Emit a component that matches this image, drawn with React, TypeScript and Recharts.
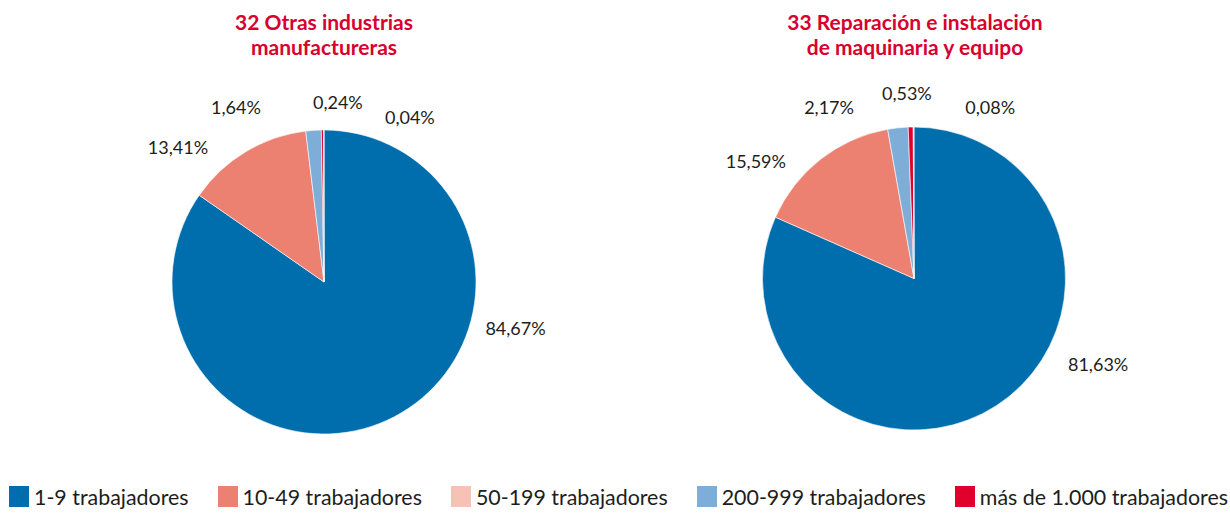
import { PieChart, Pie, Cell } from 'recharts';

const categories = [
    '1-9 trabajadores',
    '10-49 trabajadores',
    '50-199 trabajadores',
    '200-999 trabajadores',
    'más de 1.000 trabajadores',
];
const legendColors = ['#006eac', '#ec8071', '#f5c2b5', '#7eaed8', '#e0002b'];

// slice order as drawn (clockwise from 12 o'clock)
const sliceNames = ['1-9 trabajadores', '10-49 trabajadores', '200-999 trabajadores', 'más de 1.000 trabajadores', '50-199 trabajadores'];
const leftValues = [84.67, 13.41, 1.64, 0.24, 0.04];
const rightValues = [81.63, 15.59, 2.17, 0.53, 0.08];

const leftTitle = ['32 Otras industrias', 'manufactureras'];
const rightTitle = ['33 Reparación e instalación', 'de maquinaria y equipo'];

// label placement: [angle in degrees, distance from centre]
const leftLabelPos = [
    [-13.5, 197],
    [137.2, 199],
    [116.7, 196],
    [85.6, 181],
    [62.5, 186],
];
const rightLabelPos = [
    [-24.9, 203],
    [143.4, 197],
    [116.4, 191],
    [92.2, 186],
    [66.1, 188],
];

const colorOf = (name: string) => legendColors[categories.indexOf(name)];
const fmt = (v: number) => v.toFixed(2).replace('.', ',') + '%';

const buildData = (values: number[]) =>
    sliceNames.map((name, i) => ({ name, value: values[i] }));

const makeLabel = (pos: number[][]) => (props: any) => {
    const { cx, cy, index, value } = props;
    const [ang, r] = pos[index];
    const rad = (ang * Math.PI) / 180;
    const x = cx + r * Math.cos(rad);
    const y = cy - r * Math.sin(rad);
    return (
        <text
            key={'l' + index}
            x={x}
            y={y}
            textAnchor='middle'
            dominantBaseline='central'
            fill='#1d1d1b'
            fontSize={18}
            fontFamily='Lato'
        >
            {fmt(value)}
        </text>
    );
};

const Title = ({ lines, x }: { lines: string[]; x: number }) => (
    <div
        style={{
            position: 'absolute',
            left: x - 200,
            top: 9,
            width: 400,
            textAlign: 'center',
            fontFamily: 'Lato',
            fontWeight: 700,
            fontSize: 21,
            lineHeight: '25px',
            color: '#d8002e',
        }}
    >
        {lines.map((l) => (
            <div key={l}>{l}</div>
        ))}
    </div>
);

const App = () => {
    return (
        <div style={{ position: 'absolute', left: 0, top: 0, width: 1230, height: 514, background: '#fff' }}>
            <PieChart width={1230} height={514} margin={{ top: 0, right: 0, bottom: 0, left: 0 }}>
                <Pie
                    data={buildData(leftValues)}
                    dataKey='value'
                    nameKey='name'
                    cx={324}
                    cy={282}
                    outerRadius={152}
                    startAngle={90}
                    endAngle={-270}
                    stroke='#fff'
                    strokeWidth={0.6}
                    label={makeLabel(leftLabelPos)}
                    labelLine={false}
                    isAnimationActive={false}
                >
                    {sliceNames.map((n) => (
                        <Cell key={n} fill={colorOf(n)} />
                    ))}
                </Pie>
                <Pie
                    data={buildData(rightValues)}
                    dataKey='value'
                    nameKey='name'
                    cx={914}
                    cy={278.5}
                    outerRadius={151.5}
                    startAngle={90}
                    endAngle={-270}
                    stroke='#fff'
                    strokeWidth={0.6}
                    label={makeLabel(rightLabelPos)}
                    labelLine={false}
                    isAnimationActive={false}
                >
                    {sliceNames.map((n) => (
                        <Cell key={n} fill={colorOf(n)} />
                    ))}
                </Pie>
            </PieChart>
            <Title lines={leftTitle} x={324} />
            <Title lines={rightTitle} x={915} />
            <div
                style={{
                    position: 'absolute',
                    left: 9,
                    top: 486,
                    display: 'flex',
                    gap: 29,
                    fontFamily: 'Lato',
                    fontSize: 21.4,
                    color: '#1d1d1b',
                    whiteSpace: 'nowrap',
                }}
            >
                {categories.map((c, i) => (
                    <div key={c} style={{ display: 'flex', alignItems: 'center', height: 21 }}>
                        <span
                            style={{ display: 'inline-block', width: 20, height: 21, background: legendColors[i], marginRight: 5 }}
                        />
                        <span>{c}</span>
                    </div>
                ))}
            </div>
        </div>
    );
};

export default App;
